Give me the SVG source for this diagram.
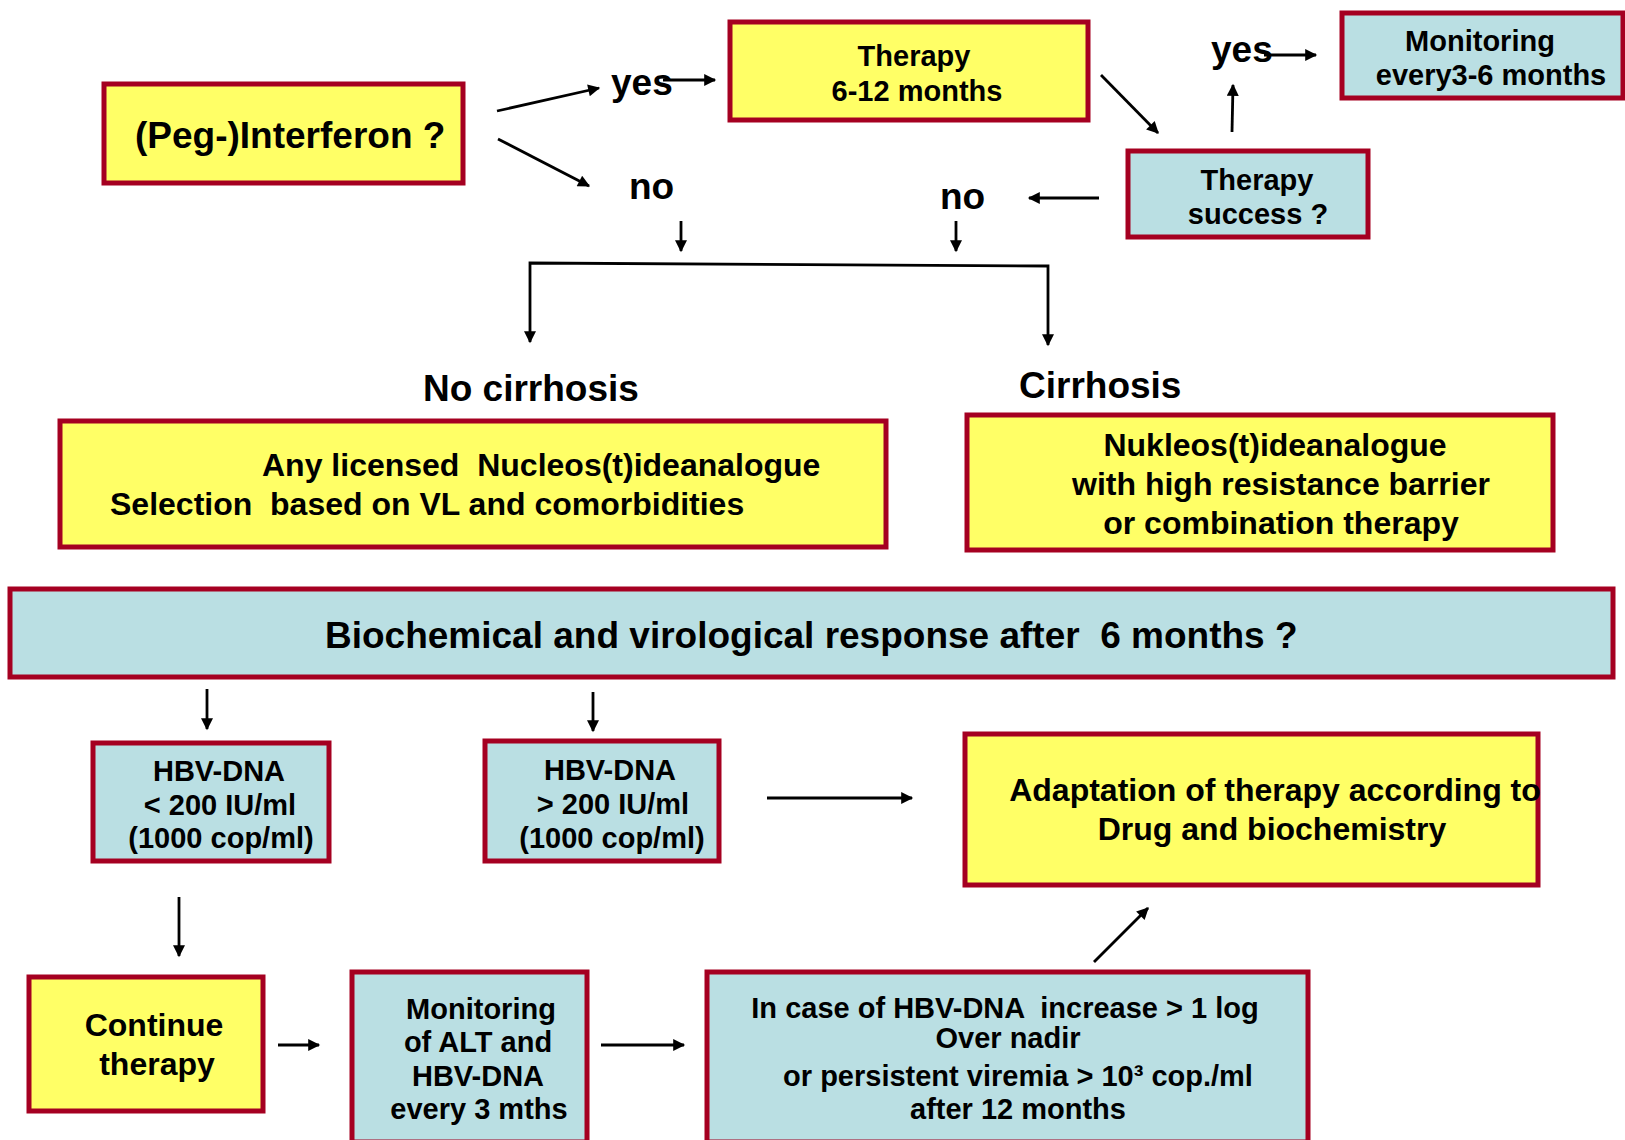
<svg xmlns="http://www.w3.org/2000/svg" width="1625" height="1140" viewBox="0 0 1625 1140">
<style>
.box{stroke:#A50021;stroke-width:5}
.y{fill:#FFFF66}
.b{fill:#BADFE3}
text{font-family:"Liberation Sans",Arial,sans-serif;font-weight:bold;fill:#000}
.t29{font-size:29px}
.t31{font-size:32px}
.t36{font-size:37px}
.c{text-anchor:middle}
.ln{stroke:#000;stroke-width:2.8;fill:none}
</style>
<defs>
<marker id="arr" viewBox="0 0 10 10" refX="9" refY="5" markerWidth="14" markerHeight="12" markerUnits="userSpaceOnUse" orient="auto-start-reverse">
<path d="M0,0 L10,5 L0,10 z" fill="#000"/>
</marker>
</defs>
<rect width="1625" height="1140" fill="#fff"/>

<g id="peg">
<rect class="box y" x="104" y="84" width="359" height="99"/>
<text class="t36" x="135" y="148">(Peg-)Interferon ?</text>
</g>
<g id="therapy">
<rect class="box y" x="730" y="22" width="358" height="98"/>
<text class="t29 c" x="914" y="66">Therapy</text>
<text class="t29 c" x="917" y="101">6-12 months</text>
</g>
<g id="success">
<rect class="box b" x="1128" y="151" width="240" height="86"/>
<text class="t29 c" x="1257" y="190">Therapy</text>
<text class="t29 c" x="1258" y="224">success ?</text>
</g>
<g id="monitoring-top">
<rect class="box b" x="1342" y="13" width="281" height="85"/>
<text class="t29 c" x="1480" y="51">Monitoring</text>
<text class="t29 c" x="1491" y="85">every3-6 months</text>
</g>
<g id="labels">
<text class="t36" x="611" y="95">yes</text>
<text class="t36" x="629" y="199">no</text>
<text class="t36" x="1211" y="62">yes</text>
<text class="t36" x="940" y="209">no</text>
<text class="t36" x="423" y="401">No cirrhosis</text>
<text class="t36" x="1019" y="398">Cirrhosis</text>
</g>
<g id="no-cirrhosis">
<rect class="box y" x="60" y="421" width="826" height="126"/>
<text class="t31" x="262" y="476" xml:space="preserve">Any licensed  Nucleos(t)ideanalogue</text>
<text class="t31" x="110" y="515" xml:space="preserve">Selection  based on VL and comorbidities</text>
</g>
<g id="cirrhosis">
<rect class="box y" x="967" y="415" width="586" height="135"/>
<text class="t31 c" x="1275" y="456">Nukleos(t)ideanalogue</text>
<text class="t31 c" x="1281" y="495">with high resistance barrier</text>
<text class="t31 c" x="1281" y="534">or combination therapy</text>
</g>
<g id="biochemical">
<rect class="box b" x="10" y="589" width="1603" height="88"/>
<text class="t36" x="325" y="648" xml:space="preserve">Biochemical and virological response after  6 months ?</text>
</g>
<g id="hbv-low">
<rect class="box b" x="93" y="743" width="236" height="118"/>
<text class="t29 c" x="219" y="781">HBV-DNA</text>
<text class="t29 c" x="220" y="815">&lt; 200 IU/ml</text>
<text class="t29 c" x="221" y="848">(1000 cop/ml)</text>
</g>
<g id="hbv-high">
<rect class="box b" x="485" y="741" width="234" height="120"/>
<text class="t29 c" x="610" y="780">HBV-DNA</text>
<text class="t29 c" x="613" y="814">&gt; 200 IU/ml</text>
<text class="t29 c" x="612" y="848">(1000 cop/ml)</text>
</g>
<g id="adaptation">
<rect class="box y" x="965" y="734" width="573" height="151"/>
<text class="t31 c" x="1275" y="801">Adaptation of therapy according to</text>
<text class="t31 c" x="1272" y="840">Drug and biochemistry</text>
</g>
<g id="continue">
<rect class="box y" x="29" y="977" width="234" height="134"/>
<text class="t31 c" x="154" y="1036">Continue</text>
<text class="t31 c" x="157" y="1075">therapy</text>
</g>
<g id="monitoring-alt">
<rect class="box b" x="352" y="972" width="235" height="170"/>
<text class="t29 c" x="481" y="1019">Monitoring</text>
<text class="t29 c" x="478" y="1052">of ALT and</text>
<text class="t29 c" x="478" y="1086">HBV-DNA</text>
<text class="t29 c" x="479" y="1119">every 3 mths</text>
</g>
<g id="in-case">
<rect class="box b" x="707" y="972" width="601" height="170"/>
<text class="t29 c" x="1005" y="1018" xml:space="preserve">In case of HBV-DNA  increase &gt; 1 log</text>
<text class="t29 c" x="1008" y="1048">Over nadir</text>
<text class="t29 c" x="1018" y="1086">or persistent viremia &gt; 10³ cop./ml</text>
<text class="t29 c" x="1018" y="1119">after 12 months</text>
</g>

<g id="connectors">
<path class="ln" d="M497,111 L599,88" marker-end="url(#arr)"/>
<path class="ln" d="M663,80 L715,80" marker-end="url(#arr)"/>
<path class="ln" d="M498,139 L589,186" marker-end="url(#arr)"/>
<path class="ln" d="M681,221 L681,251" marker-end="url(#arr)"/>
<path class="ln" d="M1101,75 L1158,133" marker-end="url(#arr)"/>
<path class="ln" d="M1232,132 L1233,85" marker-end="url(#arr)"/>
<path class="ln" d="M1264,55 L1316,55" marker-end="url(#arr)"/>
<path class="ln" d="M1099,198 L1029,198" marker-end="url(#arr)"/>
<path class="ln" d="M956,221 L956,251" marker-end="url(#arr)"/>
<path class="ln" d="M530,342 V263 L1048,266 V345" marker-start="url(#arr)" marker-end="url(#arr)"/>
<path class="ln" d="M207,689 L207,729" marker-end="url(#arr)"/>
<path class="ln" d="M593,692 L593,731" marker-end="url(#arr)"/>
<path class="ln" d="M767,798 L912,798" marker-end="url(#arr)"/>
<path class="ln" d="M179,897 L179,956" marker-end="url(#arr)"/>
<path class="ln" d="M278,1045 L319,1045" marker-end="url(#arr)"/>
<path class="ln" d="M601,1045 L684,1045" marker-end="url(#arr)"/>
<path class="ln" d="M1094,962 L1148,908" marker-end="url(#arr)"/>
</g>
</svg>
